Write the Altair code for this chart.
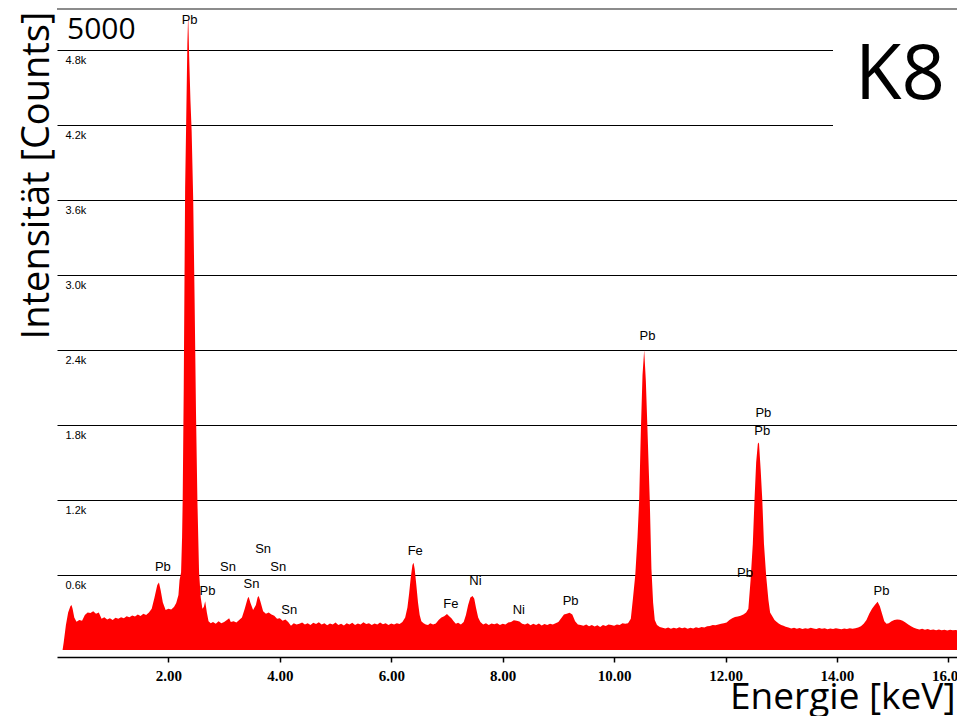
import altair as alt
import pandas as pd

# ---- spectrum values (energy in keV, counts) ----
low_energy = [0.10, 0.12, 0.16, 0.20, 0.24, 0.26, 0.28, 0.31, 0.35, 0.40, 0.45, 0.50, 0.55, 0.60,
              0.65, 0.70, 0.75, 0.80, 0.85, 0.90, 0.95, 1.00, 1.05, 1.10, 1.15, 1.20, 1.25, 1.30,
              1.35, 1.40, 1.45, 1.50, 1.55, 1.60, 1.65, 1.70, 1.75, 1.80, 1.83, 1.86, 1.90, 1.95,
              2.00, 2.05, 2.10, 2.14, 2.18]
low_counts = [0, 60, 200, 300, 350, 360, 330, 260, 226, 240, 235, 280, 300, 296,
              310, 290, 300, 250, 262, 245, 255, 240, 258, 250, 262, 255, 270, 262,
              276, 268, 285, 272, 290, 280, 300, 330, 420, 520, 540, 480, 380, 320,
              330, 325, 345, 376, 440]

pb_m_energy = [2.20, 2.227, 2.245, 2.256, 2.275, 2.30, 2.318, 2.34, 2.355, 2.372, 2.395, 2.417,
               2.445, 2.47, 2.495, 2.52, 2.55, 2.58, 2.61, 2.635, 2.66, 2.69, 2.72, 2.76]
pb_m_counts = [560, 620, 900, 1200, 2100, 3700, 4200, 4850, 5090, 4750, 4400, 4150,
               3600, 2800, 1900, 1200, 620, 420, 330, 345, 390, 300, 230, 215]

sn_energy = [2.80, 2.85, 2.90, 2.95, 3.00, 3.05, 3.09, 3.12, 3.17, 3.22, 3.27, 3.32, 3.37, 3.42,
             3.44, 3.47, 3.52, 3.57, 3.60, 3.62, 3.65, 3.70, 3.75, 3.80, 3.85, 3.90, 3.95, 4.00,
             4.05, 4.10, 4.15, 4.20, 4.25, 4.30]
sn_counts = [225, 210, 230, 215, 225, 240, 255, 225, 230, 220, 240, 260, 330, 410,
             426, 380, 320, 360, 420, 432, 390, 310, 290, 300, 285, 275, 250, 255,
             235, 245, 225, 195, 215, 205]

mid_energy = [4.35, 4.40, 4.45, 4.50, 4.55, 4.60, 4.65, 4.70, 4.75, 4.80, 4.85, 4.90, 4.95, 5.00,
              5.05, 5.10, 5.15, 5.20, 5.25, 5.30, 5.35, 5.40, 5.45, 5.50, 5.55, 5.60, 5.65, 5.70,
              5.75, 5.80, 5.85, 5.90, 5.95, 6.00, 6.05, 6.10, 6.15, 6.20]
mid_counts = [210, 220, 205, 215, 200, 218, 208, 222, 205, 215, 198, 212, 205, 220,
              200, 210, 196, 215, 205, 218, 200, 212, 205, 222, 208, 215, 200, 212,
              205, 220, 206, 215, 200, 212, 205, 215, 208, 225]

fe_ni_energy = [6.25, 6.29, 6.32, 6.35, 6.38, 6.40, 6.42, 6.45, 6.48, 6.51, 6.54, 6.58, 6.62, 6.66,
                6.70, 6.75, 6.80, 6.85, 6.90, 6.95, 7.00, 7.04, 7.08, 7.12, 7.16, 7.20, 7.25, 7.30,
                7.34, 7.38, 7.42, 7.46, 7.49, 7.52, 7.56, 7.60, 7.65, 7.70, 7.75, 7.80, 7.85, 7.90,
                7.95, 8.00, 8.05, 8.10, 8.15, 8.20, 8.25, 8.30, 8.35, 8.40, 8.45, 8.50, 8.55, 8.60,
                8.65, 8.70, 8.75, 8.80, 8.85, 8.90, 8.95]
fe_ni_counts = [260, 340, 450, 580, 680, 698, 650, 520, 380, 280, 230, 215, 205, 200,
                215, 205, 212, 240, 260, 270, 288, 270, 255, 230, 210, 218, 205, 225,
                280, 360, 420, 432, 410, 340, 260, 225, 205, 215, 200, 212, 206, 215,
                200, 210, 205, 220, 225, 238, 235, 228, 210, 205, 215, 198, 210, 200,
                212, 196, 208, 200, 210, 205, 215]

pb_l_energy = [9.00, 9.05, 9.10, 9.15, 9.20, 9.25, 9.30, 9.35, 9.40, 9.45, 9.50, 9.55, 9.60, 9.65,
               9.70, 9.75, 9.80, 9.85, 9.90, 9.95, 10.00, 10.05, 10.10, 10.15, 10.20, 10.25, 10.30,
               10.34, 10.38, 10.42, 10.45, 10.48, 10.51, 10.54, 10.57, 10.60, 10.64, 10.67, 10.70,
               10.73, 10.77, 10.82, 10.87, 10.92, 10.97]
pb_l_counts = [225, 255, 285, 290, 298, 285, 230, 205, 200, 195, 205, 190, 200, 188,
               198, 185, 200, 192, 205, 200, 195, 205, 200, 215, 210, 215, 250,
               420, 600, 900, 1200, 1750, 2200, 2400, 2150, 1750, 1200, 650, 380,
               240, 200, 185, 178, 172, 180]

pb_lb_energy = [11.02, 11.07, 11.12, 11.17, 11.22, 11.27, 11.32, 11.37, 11.42, 11.47, 11.52, 11.57,
                11.62, 11.67, 11.72, 11.77, 11.82, 11.87, 11.92, 11.97, 12.02, 12.07, 12.12, 12.17,
                12.22, 12.27, 12.32, 12.37, 12.41, 12.45, 12.49, 12.52, 12.55, 12.58, 12.60, 12.63,
                12.66, 12.69, 12.73, 12.77, 12.80, 12.84, 12.88, 12.92, 12.96, 13.00, 13.04, 13.08]
pb_lb_counts = [170, 178, 172, 182, 175, 180, 170, 178, 172, 182, 176, 185,
                180, 190, 192, 200, 198, 205, 210, 215, 220, 240, 255, 265,
                268, 275, 285, 300, 330, 560, 850, 1200, 1500, 1650, 1660, 1450,
                1200, 850, 590, 400, 300, 270, 240, 225, 210, 200, 195, 186]

high_energy = [13.13, 13.18, 13.23, 13.28, 13.33, 13.38, 13.43, 13.48, 13.53, 13.58, 13.63, 13.68,
               13.73, 13.78, 13.83, 13.88, 13.93, 13.98, 14.03, 14.08, 14.13, 14.18, 14.23, 14.28,
               14.33, 14.38, 14.43, 14.48, 14.53, 14.58, 14.63, 14.68, 14.73, 14.77, 14.81, 14.85,
               14.89, 14.93, 14.98, 15.03, 15.08, 15.13, 15.18, 15.23, 15.28, 15.33, 15.38, 15.43,
               15.48, 15.53, 15.58, 15.63, 15.68, 15.73, 15.78, 15.83, 15.88, 15.93, 15.98, 16.03,
               16.08, 16.13, 16.18, 16.25]
high_counts = [180, 172, 178, 170, 176, 168, 175, 170, 178, 172, 168, 176,
               170, 174, 166, 172, 168, 175, 170, 166, 172, 168, 175, 170,
               175, 180, 190, 210, 240, 290, 330, 360, 386, 350, 290, 230,
               210, 215, 230, 240, 245, 242, 235, 220, 205, 190, 178, 170,
               165, 170, 162, 168, 160, 165, 158, 164, 158, 162, 156, 162,
               158, 160, 155, 158]

energy = low_energy + pb_m_energy + sn_energy + mid_energy + fe_ni_energy + pb_l_energy + pb_lb_energy + high_energy
counts = low_counts + pb_m_counts + sn_counts + mid_counts + fe_ni_counts + pb_l_counts + pb_lb_counts + high_counts

# ---- peak labels ----
label_text = ["Pb", "Pb", "Pb", "Sn", "Sn", "Sn", "Sn", "Sn", "Fe", "Fe", "Ni", "Ni", "Pb",
              "Pb", "Pb", "Pb", "Pb", "Pb"]
label_energy = [2.38, 1.90, 2.70, 3.07, 3.70, 3.49, 3.97, 4.17, 6.43, 7.07, 7.51, 8.29, 9.22,
                10.60, 12.68, 12.66, 12.35, 14.80]
label_counts = [5040, 664, 472, 664, 808, 528, 664, 320, 796, 368, 552, 320, 392,
                2512, 1896, 1752, 616, 472]

grid_values = [600, 1200, 1800, 2400, 3000, 3600, 4200, 4800]
x_tick_values = [2, 4, 6, 8, 10, 12, 14, 16]

spec = pd.DataFrame({"energy": energy, "counts": counts})
labels = pd.DataFrame({"energy": label_energy, "counts": label_counts, "el": label_text})
one = pd.DataFrame({"a": [0]})

W, H = 900, 641
x_scale = alt.Scale(domain=[0, 16.155], nice=False, zero=False)
y_scale = alt.Scale(domain=[0, 5128], nice=False, zero=True)

sans = "Open Sans"

area = alt.Chart(spec).mark_area(color="#ff0000", interpolate="linear", clip=True).encode(
    x=alt.X("energy:Q", scale=x_scale, axis=alt.Axis(
        values=x_tick_values, format=".2f", grid=False, domainColor="black", domainWidth=1.5,
        tickColor="black", tickSize=5, tickWidth=1.5, offset=7,
        labelFont="Liberation Serif", labelFontWeight="bold", labelFontSize=15, labelColor="black",
        labelPadding=6,
        title="Energie [keV]", titleFont=sans, titleFontSize=37, titleFontWeight="normal",
        titleColor="black", titleAlign="right", titleBaseline="alphabetic",
        titleX=898, titleY=51)),
    y=alt.Y("counts:Q", scale=y_scale, axis=alt.Axis(
        values=grid_values, labelExpr="format(datum.value / 1000, '.1f') + 'k'",
        grid=True, gridColor="#000000", gridWidth=1, domain=False, ticks=False,
        labelAlign="left", labelBaseline="top", labelPadding=-8, labelOffset=4,
        labelFont="Liberation Sans Narrow, Arial Narrow, Liberation Sans", labelFontSize=11,
        labelColor="#000000",
        title="Intensität [Counts]", titleFont=sans, titleFontSize=38, titleFontWeight="normal",
        titleColor="black", titleAngle=270, titleAlign="center", titleBaseline="alphabetic",
        titleX=-9, titleY=166)),
)

peak_labels = alt.Chart(labels).mark_text(
    font="Liberation Sans", fontSize=13, color="black", baseline="middle", align="center"
).encode(
    x=alt.X("energy:Q", scale=x_scale),
    y=alt.Y("counts:Q", scale=y_scale),
    text="el:N",
)

top_border = alt.Chart(one).mark_rule(color="#666666", strokeWidth=1.5).encode(
    x=alt.value(0), x2=alt.value(W), y=alt.value(0)
)

white_box = alt.Chart(one).mark_rect(color="white").encode(
    x=alt.value(776), x2=alt.value(W), y=alt.value(2), y2=alt.value(140)
)

k8 = alt.Chart(one).mark_text(
    text="K8", font=sans, fontSize=76, color="black", align="left", baseline="alphabetic"
).encode(x=alt.value(798), y=alt.value(90))

max_label = alt.Chart(one).mark_text(
    text="5000", font=sans, fontSize=30, color="black", align="left", baseline="alphabetic"
).encode(x=alt.value(10), y=alt.value(30))

chart = alt.layer(area, peak_labels, top_border, white_box, k8, max_label).properties(
    width=W, height=H,
    autosize=alt.AutoSizeParams(type="none"),
    padding={"left": 49, "top": 1, "right": 0, "bottom": 66},
).configure_view(stroke=None)

chart.save("out.html", embed_options={"renderer": "svg", "actions": False})
